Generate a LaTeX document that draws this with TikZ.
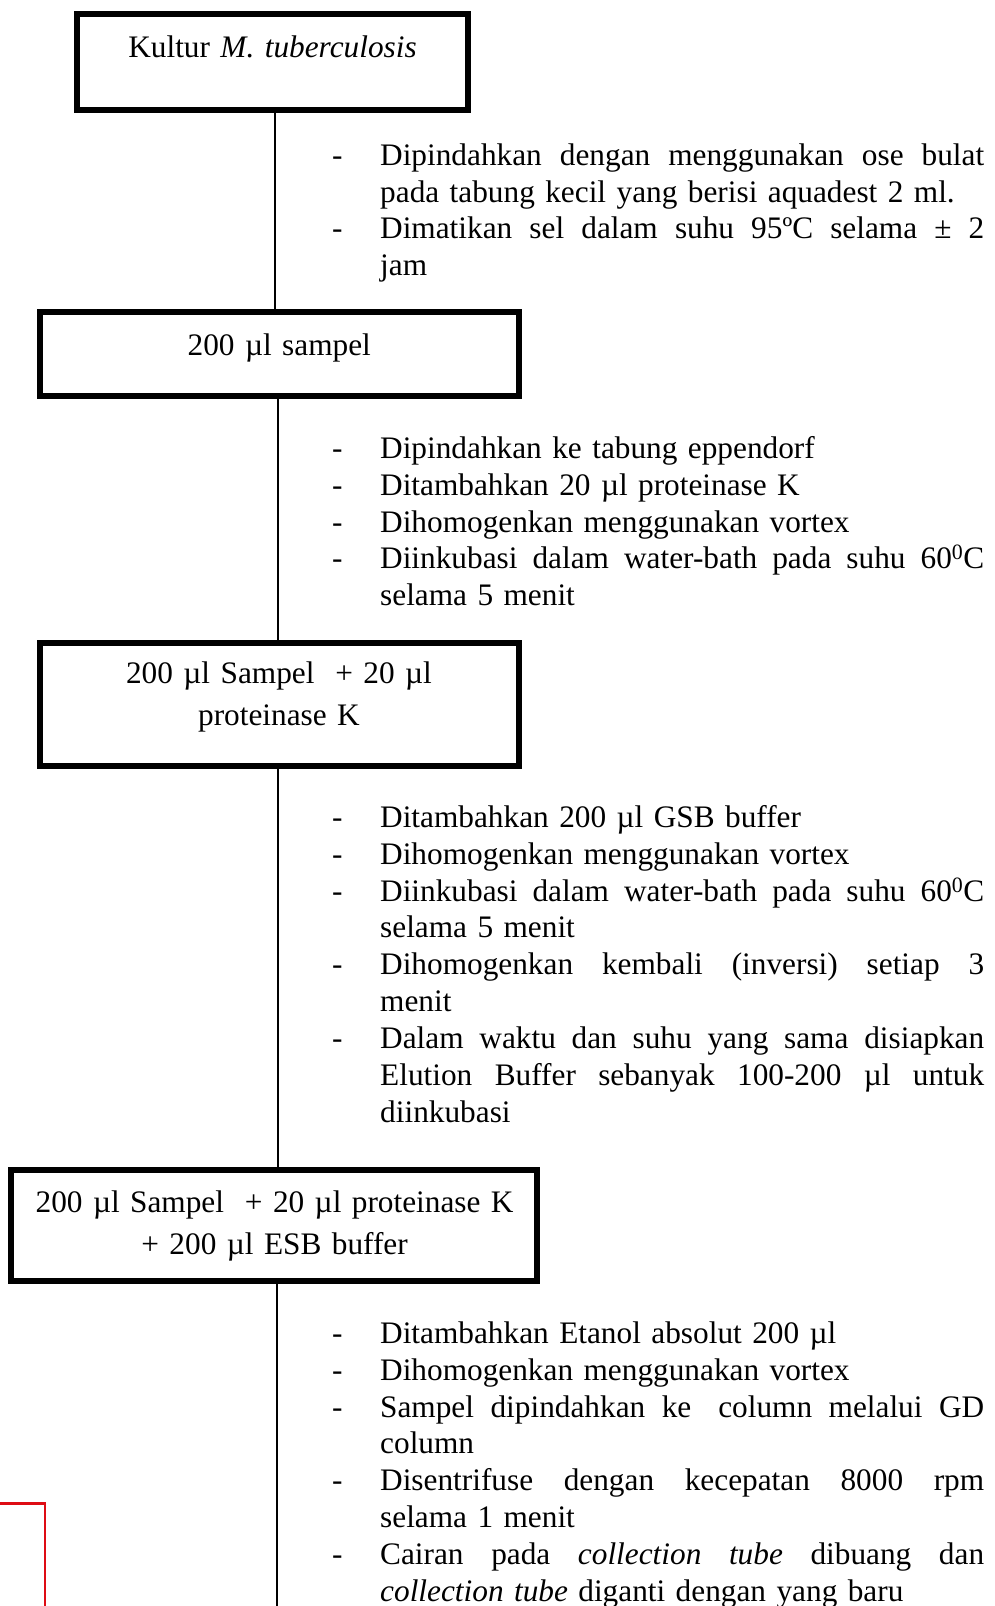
\documentclass[tikz,border=0pt]{standalone}
\usepackage{fontspec}
\setmainfont{Liberation Serif}
\definecolor{redline}{RGB}{222,12,20}
\newcommand{\bul}{\makebox[48pt][l]{-}}
\newcommand{\jus}[1]{\hbox to 604pt{#1}}
\newcommand{\gap}{ \hfill}
\newcommand{\cnt}{\hspace*{48pt}}
\tikzset{
  stepbox/.style={draw=black, line width=6.5pt, rectangle, inner sep=0pt},
  conn/.style={draw=black, line width=2pt},
  boxtext/.style={font=\fontsize{31.3}{42}\selectfont, inner sep=0pt, align=center, text width=520pt, anchor=north},
  steptext/.style={font=\fontsize{31.3}{36.9}\selectfont, inner sep=0pt, align=left, text width=680pt, anchor=north west},
  redbox/.style={draw=redline, line width=2.5pt, rectangle, inner sep=0pt}
}
\begin{document}
\begin{tikzpicture}[x=1pt,y=-1pt]
\useasboundingbox (0,0) rectangle (995,1606);
\clip (0,0) rectangle (995,1606);

% boxes
\node[stepbox, minimum width=391pt, minimum height=96pt] (b1) at (272.5,62) {};
\node[stepbox, minimum width=479pt, minimum height=84pt] (b2) at (279.5,354) {};
\node[stepbox, minimum width=479pt, minimum height=123pt] (b3) at (279.5,704.5) {};
\node[stepbox, minimum width=526pt, minimum height=111pt] (b4) at (274,1225.5) {};
\node[redbox, minimum width=200pt, minimum height=200pt, anchor=north east] (rb) at (46,1502) {};
\coordinate (end) at (277,1620);

% connectors
\draw[conn] ([xshift=2pt]b1.south) -- ([xshift=2pt]b1.south |- b2.north);
\draw[conn] ([xshift=-2pt]b2.south) -- ([xshift=-2pt]b2.south |- b3.north);
\draw[conn] ([xshift=-2pt]b3.south) -- ([xshift=-2pt]b3.south |- b4.north);
\draw[conn] ([xshift=3pt]b4.south) -- ([xshift=3pt]b4.south |- end);

% box texts
\node[boxtext] (l1) at (272.5,27.6) {\strut Kultur \textit{M. tuberculosis}};
\node[boxtext] (l2) at (279.3,326.1) {\strut 200 µl sampel};
\node[boxtext] (l3) at (279,653.6) {\strut 200 µl Sampel\ \ + 20 µl\\ \strut proteinase K};
\node[boxtext] (l4) at (274.6,1182.6) {\strut 200 µl Sampel\ \ + 20 µl proteinase K\\ \strut + 200 µl ESB buffer};

% step texts
\node[steptext] (s1) at (332,139.1) {%
\strut\bul\jus{Dipindahkan\gap dengan\gap menggunakan\gap ose\gap bulat}\\
\strut\cnt pada tabung kecil yang berisi aquadest 2 ml.\\
\strut\bul\jus{Dimatikan\gap sel\gap dalam\gap suhu\gap 95ºC\gap selama\gap ±\gap 2}\\
\strut\cnt jam};

\node[steptext] (s2) at (332,432.2) {%
\strut\bul Dipindahkan ke tabung eppendorf\\
\strut\bul Ditambahkan 20 µl proteinase K\\
\strut\bul Dihomogenkan menggunakan vortex\\
\strut\bul\jus{Diinkubasi\gap dalam\gap water-bath\gap pada\gap suhu\gap 60\textsuperscript{0}C}\\
\strut\cnt selama 5 menit};

\node[steptext] (s3) at (332,801.2) {%
\strut\bul Ditambahkan 200 µl GSB buffer\\
\strut\bul Dihomogenkan menggunakan vortex\\
\strut\bul\jus{Diinkubasi\gap dalam\gap water-bath\gap pada\gap suhu\gap 60\textsuperscript{0}C}\\
\strut\cnt selama 5 menit\\
\strut\bul\jus{Dihomogenkan\gap kembali\gap (inversi)\gap setiap\gap 3}\\
\strut\cnt menit\\
\strut\bul\jus{Dalam\gap waktu\gap dan\gap suhu\gap yang\gap sama\gap disiapkan}\\
\strut\cnt\jus{Elution\gap Buffer\gap sebanyak\gap 100-200\gap µl\gap untuk}\\
\strut\cnt diinkubasi};

\node[steptext] (s4) at (332,1317.2) {%
\strut\bul Ditambahkan Etanol absolut 200 µl\\
\strut\bul Dihomogenkan menggunakan vortex\\
\strut\bul\jus{Sampel\gap dipindahkan\gap ke\gap\ column\gap melalui\gap GD}\\
\strut\cnt column\\
\strut\bul\jus{Disentrifuse\gap dengan\gap kecepatan\gap 8000\gap rpm}\\
\strut\cnt selama 1 menit\\
\strut\bul\jus{Cairan\gap pada\gap \textit{collection}\gap \textit{tube}\gap dibuang\gap dan}\\
\strut\cnt\textit{collection tube} diganti dengan yang baru};
\end{tikzpicture}
\end{document}
